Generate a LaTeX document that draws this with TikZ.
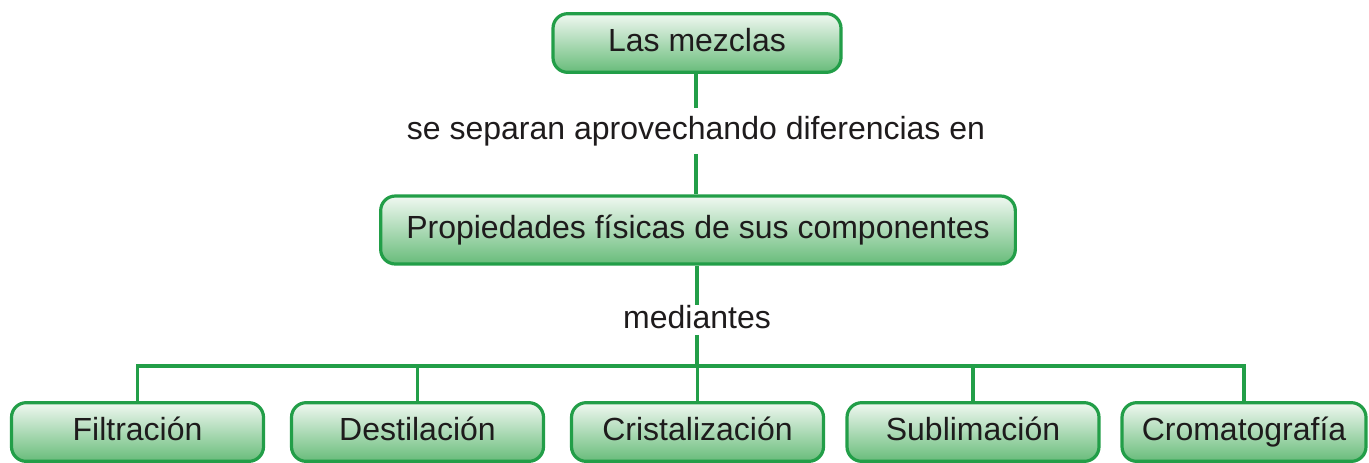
\documentclass[tikz,border=0pt]{standalone}
\usepackage{fontspec}
\setmainfont{Liberation Sans}
\definecolor{lineg}{RGB}{34,158,72}
\definecolor{topg}{RGB}{240,248,241}
\definecolor{botg}{RGB}{104,188,122}
\definecolor{txt}{RGB}{30,27,28}
\begin{document}
\begin{tikzpicture}[x=0.75pt,y=-0.75pt,
  cbox/.style={draw=lineg,line width=2.4pt,rounded corners=11pt,top color=topg,bottom color=botg,
    text=txt,font=\fontsize{24}{28}\selectfont,inner sep=0pt,minimum height=44pt,
    text height=17pt,text depth=5pt},
  link/.style={draw=lineg,line width=2.5pt},
  lbl/.style={text=txt,font=\fontsize{24}{28}\selectfont,inner sep=0pt,fill=white,
    text height=17pt,text depth=5pt}]
\useasboundingbox (0,0) rectangle (1369,462);
\node[cbox,minimum width=216pt] (mez) at (697,43) {Las mezclas};
\node[cbox,minimum width=476pt,minimum height=51pt] (prop) at (698,230) {Propiedades físicas de sus componentes};
\node[lbl,inner ysep=6pt] (l1) at (696,131) {se separan aprovechando diferencias en};
\node[lbl,inner ysep=0pt] (l2) at (697,320) {mediantes};
\draw[link] (mez.south -| l1.north) -- (l1.north);
\draw[link] (l1.south) -- (prop.north -| l1.south);
\draw[link] (prop.south -| l2.north) -- (l2.north);
\node[cbox,minimum width=189pt] (b1) at (137.5,432) {Filtración};
\node[cbox,minimum width=189pt] (b2) at (417.5,432) {Destilación};
\node[cbox,minimum width=189pt] (b3) at (697.5,432) {Cristalización};
\node[cbox,minimum width=189pt] (b4) at (973,432) {Sublimación};
\node[cbox,minimum width=183pt] (b5) at (1244,432) {Cromatografía};
\coordinate (h) at (697,366);
\draw[link] (l2.south) -- (h);
\draw[link] (b1.north) -- (b1.north |- h) -- (b5.north |- h) -- (b5.north);
\draw[link] (b2.north) -- (b2.north |- h);
\draw[link] (b3.north) -- (b3.north |- h);
\draw[link] (b4.north) -- (b4.north |- h);
\end{tikzpicture}
\end{document}
